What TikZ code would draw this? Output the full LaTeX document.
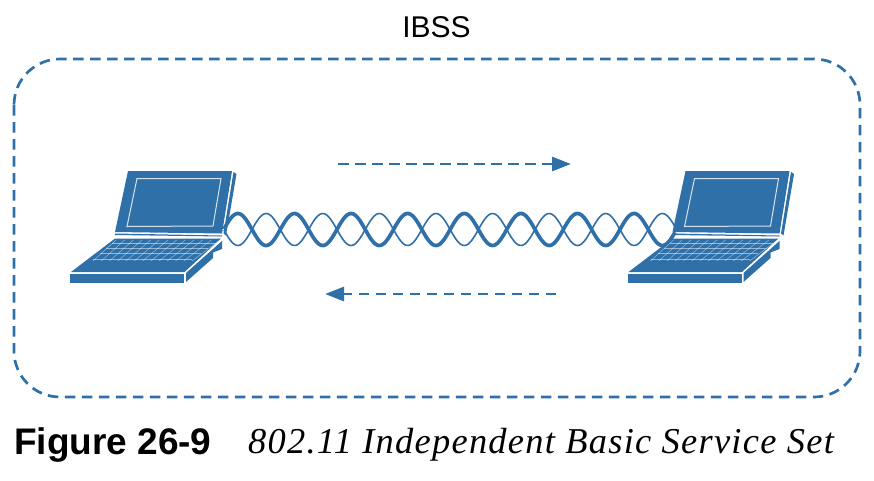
\documentclass[tikz,border=0pt]{standalone}
\usepackage{fontspec}
\setmainfont{Liberation Sans}
\newfontfamily\capserif[LetterSpace=3.5]{Liberation Serif}
\usetikzlibrary{arrows.meta}
\definecolor{netblue}{HTML}{2F70A9}
\tikzset{
  dashline/.style={draw=netblue,line width=2.7pt,dash pattern=on 10.5pt off 6.5pt},
  flow/.style={dashline,line width=2.9pt,-{Triangle[length=19pt,width=14pt,fill=netblue]}},
  lapline/.style={draw=white,line width=1pt,opacity=.8},
  gridline/.style={draw=white,line width=.5pt,opacity=.5},
  laptop/.pic={
    \fill[netblue] (128,171)--(232,171)--(222,233.5)--(115,232)--cycle;
    \fill[netblue] (233.5,172)--(236.5,174)--(226,235.5)--(223.5,233.5)--cycle;
    \draw[lapline] (137,178.5)--(221,178.5)--(213,226)--(127,226.5)--cycle;
    \fill[netblue] (115,233.5)--(222,235.5)--(222,236.5)--(115,235)--cycle;
    \fill[netblue] (115,238.5)--(221,238.5)--(184.5,272)--(71,272)--cycle;
    \fill[netblue] (70,273.5)--(184,273.5)--(184,283)--(70,283)--cycle;
    \fill[netblue] (186,273)--(222,241)--(222,249)--(213,252.5)--(213,258)--(186,282)--cycle;
    \foreach \t in {243,248,253,259}
      \draw[gridline] ({116-(\t-240)*23/19},\t) -- ({220-(\t-240)*28/19},\t);
    \foreach \t in {0,1,...,12}
      \draw[gridline] ({116+\t*104/12},240) -- ({93+\t*99/12},261);
  }
}
\begin{document}
\begin{tikzpicture}[x=1pt,y=-1pt]
\useasboundingbox (0,0) rectangle (874,480);
\node[font=\fontsize{30}{30}\selectfont,anchor=base] (title) at (436.5,37) {IBSS};
\draw[dashline,rounded corners=46pt] (14,59) rectangle (860,397);

\draw[draw=netblue,line width=1.6pt] plot[domain=224:675,samples=260] (\x,{229.5+16*sin((\x-223.7)*6.36)});
\draw[draw=netblue,line width=3.7pt] plot[domain=224:675,samples=260] (\x,{229.5-16*sin((\x-223.7)*6.36)});

\pic (lapA) at (0,0) {laptop};
\pic (lapB) at (557.5,0) {laptop};

\coordinate (upA) at (338,164);
\coordinate (upB) at (571,164);
\coordinate (lowA) at (556,294);
\coordinate (lowB) at (325,294);
\draw[flow] (upA) -- (upB);
\draw[flow] (lowA) -- (lowB);

\node[font=\bfseries\fontsize{37}{37}\selectfont,anchor=base west,inner sep=0pt] (figno) at (14,454) {Figure 26-9};
\node[font=\capserif\itshape\fontsize{36.4}{36.4}\selectfont,anchor=base west,inner sep=0pt] (figcap) at (248,453) {802.11 Independent Basic Service Set};
\end{tikzpicture}
\end{document}
